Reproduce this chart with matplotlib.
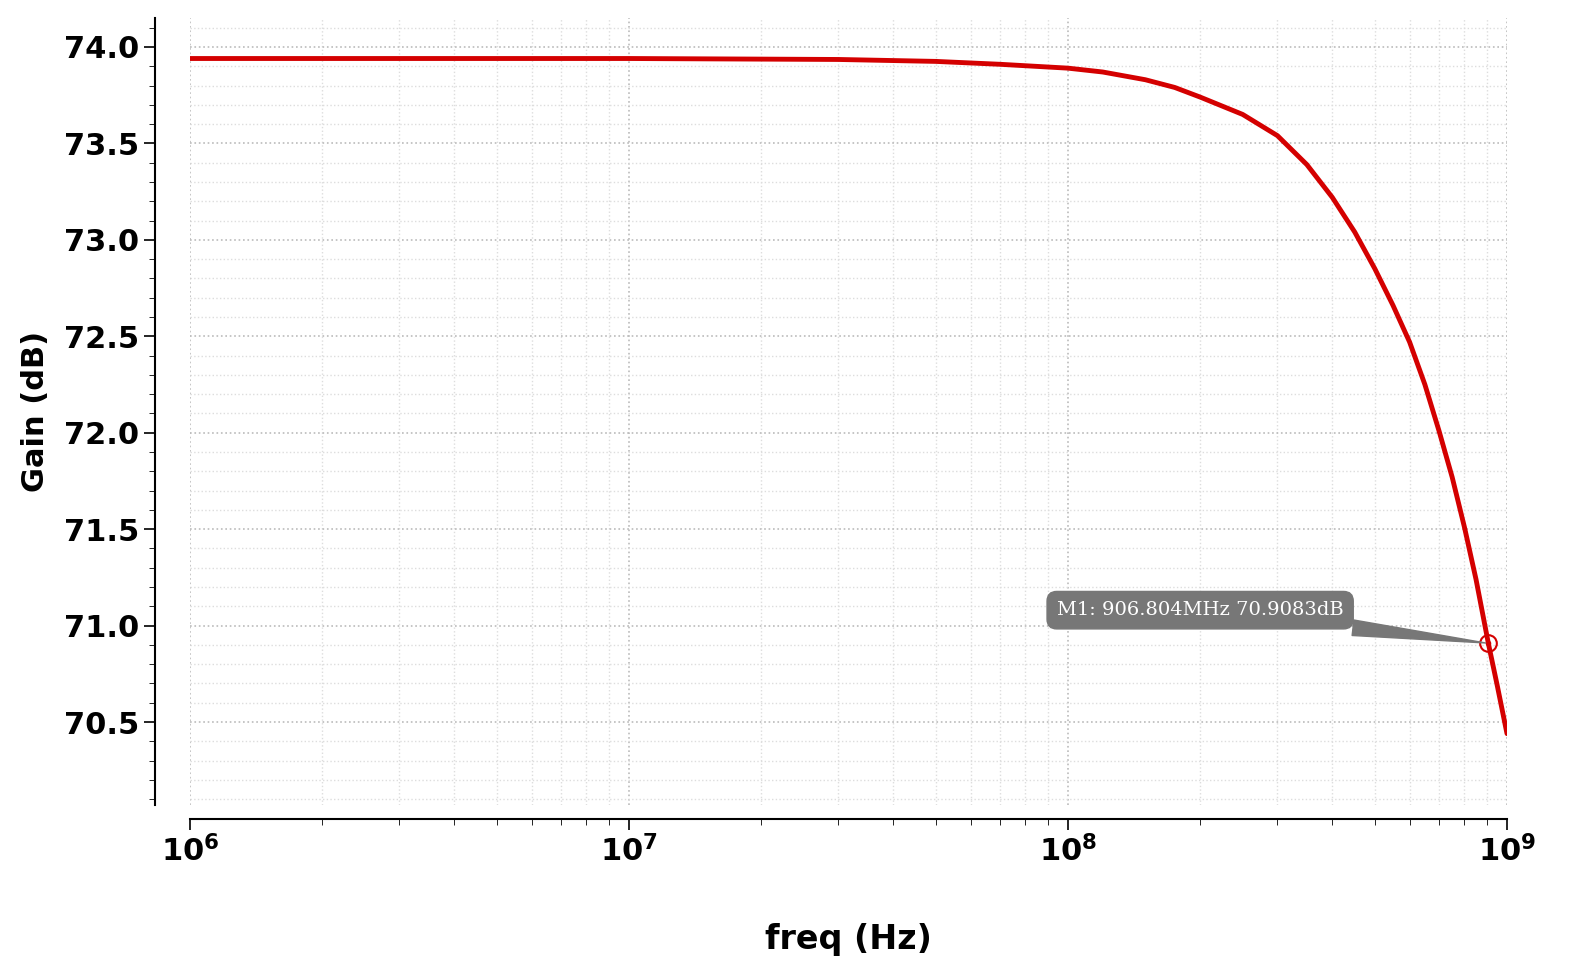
import numpy as np
import matplotlib
matplotlib.use("Agg")
import matplotlib.pyplot as plt
from matplotlib.ticker import MultipleLocator, LogLocator, NullFormatter

freq = [1e6, 3e6, 1e7, 3e7, 5e7, 7e7, 1e8, 1.2e8, 1.5e8, 1.75e8, 2e8, 2.5e8, 3e8, 3.5e8, 4e8, 4.5e8,
        5e8, 5.5e8, 6e8, 6.5e8, 7e8, 7.5e8, 8e8, 8.5e8, 9.06804e8, 9.5e8, 1e9]
gain = [73.94, 73.94, 73.94, 73.935, 73.925, 73.91, 73.89, 73.87, 73.83, 73.79, 73.74, 73.65, 73.54,
        73.39, 73.22, 73.04, 72.85, 72.66, 72.47, 72.25, 72.01, 71.77, 71.51, 71.24, 70.9083, 70.69, 70.44]
marker_f = 906.804e6
marker_g = 70.9083

fig = plt.figure(figsize=(15.88, 9.74), dpi=100)
ax = fig.add_axes([190/1588, 1-805/974, (1507-190)/1588, (805-18)/974])
ax.semilogx(freq, gain, color="#d40000", lw=3.5, solid_capstyle="round", solid_joinstyle="round")
ax.set_xlim(1e6, 1e9)
ax.set_ylim(70.07, 74.15)
ax.yaxis.set_minor_locator(MultipleLocator(0.1))
ax.set_yticks([70.5, 71.0, 71.5, 72.0, 72.5, 73.0, 73.5, 74.0])
ax.xaxis.set_minor_locator(LogLocator(base=10, subs=np.arange(2, 10)))
ax.xaxis.set_minor_formatter(NullFormatter())
ax.grid(True, which="major", color="#bbbbbb", ls=":", lw=1.2)
ax.grid(True, which="minor", color="#dddddd", ls=":", lw=1.0)
for s in ["top", "right"]:
    ax.spines[s].set_visible(False)
ax.spines["left"].set_position(("outward", 25))
ax.spines["bottom"].set_position(("outward", 10))
ax.spines["left"].set_linewidth(1.5)
ax.spines["bottom"].set_linewidth(1.5)
ax.tick_params(axis="both", which="major", labelsize=22, length=8, width=1.2)
ax.tick_params(axis="both", which="minor", length=4)
for lab in ax.get_yticklabels() + ax.get_xticklabels():
    lab.set_fontweight("bold")
ax.set_xlabel("freq (Hz)", fontsize=24, fontweight="bold", labelpad=40)
ax.set_ylabel("Gain (dB)", fontsize=22, fontweight="bold", labelpad=10)

ax.plot([marker_f], [marker_g], "o", mfc="none", mec="#d40000", ms=12, mew=1.5)
ax.plot([marker_f], [marker_g], "o", color="#d40000", ms=3)
ax.annotate(f"M1: {marker_f/1e6:.3f}MHz {marker_g:.4f}dB", xy=(marker_f, marker_g),
            xytext=(2.0e8, 71.08), ha="center", va="center", fontsize=14,
            family="DejaVu Serif", color="white",
            bbox=dict(boxstyle="round,pad=0.5", fc="#777777", ec="#777777"),
            arrowprops=dict(arrowstyle="wedge,tail_width=0.8", fc="#777777", ec="#777777"))
fig.savefig("out.png", dpi=100)
